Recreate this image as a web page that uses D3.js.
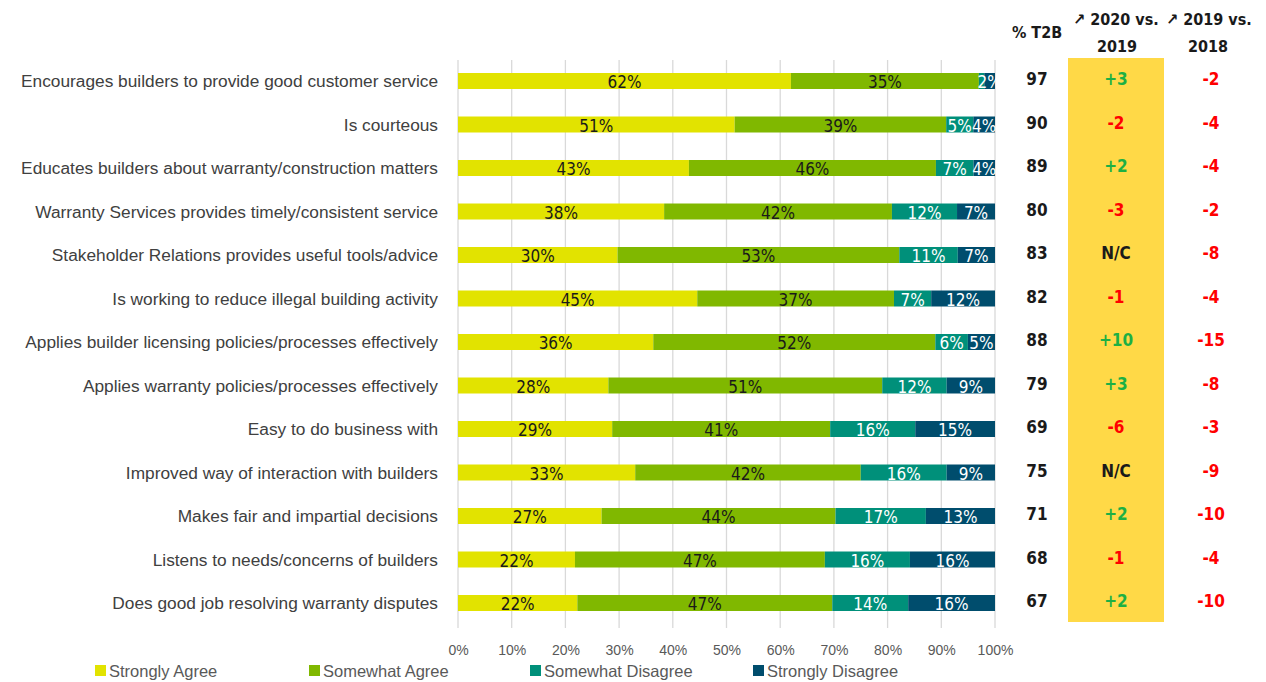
<!DOCTYPE html>
<html>
<head>
<meta charset="utf-8">
<script src="https://cdn.jsdelivr.net/npm/d3@7"></script>
<style>
  html, body { margin: 0; padding: 0; background: #fff; }
  svg { display: block; }
</style>
</head>
<body>
<svg id="chart" width="1266" height="682"></svg>
<script>
// Survey statements (top to bottom)
const categories = [
  "Encourages builders to provide good customer service",
  "Is courteous",
  "Educates builders about warranty/construction matters",
  "Warranty Services provides timely/consistent service",
  "Stakeholder Relations provides useful tools/advice",
  "Is working to reduce illegal building activity",
  "Applies builder licensing policies/processes effectively",
  "Applies warranty policies/processes effectively",
  "Easy to do business with",
  "Improved way of interaction with builders",
  "Makes fair and impartial decisions",
  "Listens to needs/concerns of builders",
  "Does good job resolving warranty disputes"
];

// Response shares (%)
const stronglyAgree     = [62, 51, 43, 38, 30, 45, 36, 28, 29, 33, 27, 22, 22];
const somewhatAgree     = [35, 39, 46, 42, 53, 37, 52, 51, 41, 42, 44, 47, 47];
const somewhatDisagree  = [ 1,  5,  7, 12, 11,  7,  6, 12, 16, 16, 17, 16, 14];
const stronglyDisagree  = [ 2,  4,  4,  7,  7, 12,  5,  9, 15,  9, 13, 16, 16];

// Side table
const t2b       = [97, 90, 89, 80, 83, 82, 88, 79, 69, 75, 71, 68, 67];
const chg2020   = ["+3", "-2", "+2", "-3", "N/C", "-1", "+10", "+3", "-6", "N/C", "+2", "-1", "+2"];
const chg2019   = ["-2", "-4", "-4", "-2", "-8", "-4", "-15", "-8", "-3", "-9", "-10", "-4", "-10"];

const seriesNames = ["Strongly Agree", "Somewhat Agree", "Somewhat Disagree", "Strongly Disagree"];
const seriesValues = [stronglyAgree, somewhatAgree, somewhatDisagree, stronglyDisagree];
const xTicks = [0, 0.1, 0.2, 0.3, 0.4, 0.5, 0.6, 0.7, 0.8, 0.9, 1.0];

const colors = ["#E2E300", "#80B800", "#00907A", "#004D6D"];
const labelColors = ["#1a1a1a", "#1a1a1a", "#ffffff", "#ffffff"];

const FONT = "'Liberation Sans', Arial, sans-serif";
const NARROW = "'Liberation Sans Narrow', 'DejaVu Sans Condensed', 'Liberation Sans', Arial, sans-serif";

const svg = d3.select("#chart");

// Build rows for stacking
const rows = categories.map((c, i) => {
  const r = { category: c };
  seriesNames.forEach((s, k) => r[s] = seriesValues[k][i]);
  return r;
});

const stack = d3.stack().keys(seriesNames).offset(d3.stackOffsetExpand);
const stacked = stack(rows);

const x = d3.scaleLinear().domain([0, 1]).range([458, 995]);
const y = d3.scaleBand().domain(categories).range([59.25, 624.75]).padding(0);
const barH = 16;
const cy = c => y(c) + y.bandwidth() / 2;

// Gridlines
svg.append("g")
  .selectAll("line")
  .data(xTicks)
  .join("line")
  .attr("x1", d => x(d)).attr("x2", d => x(d))
  .attr("y1", 60).attr("y2", 628)
  .attr("stroke", "#d9d9d9")
  .attr("stroke-width", 1.3);

// X axis labels
const xAxis = d3.axisBottom(x).tickValues(xTicks).tickFormat(d3.format(".0%")).tickSize(0).tickPadding(0);
const axisG = svg.append("g").attr("transform", "translate(0,645)").call(xAxis);
axisG.select(".domain").remove();
axisG.selectAll("text")
  .attr("font-family", FONT)
  .attr("font-size", 14)
  .attr("fill", "#595959");

// Stacked bars
const layer = svg.append("g")
  .selectAll("g")
  .data(stacked)
  .join("g")
  .attr("fill", (d, i) => colors[i]);

layer.selectAll("rect")
  .data(d => d)
  .join("rect")
  .attr("x", d => x(d[0]))
  .attr("width", d => x(d[1]) - x(d[0]))
  .attr("y", d => cy(d.data.category) - barH / 2)
  .attr("height", barH);

// Segment value labels
stacked.forEach((s, k) => {
  svg.append("g")
    .selectAll("text")
    .data(s.filter(d => d.data[s.key] >= 2))
    .join("text")
    .attr("x", d => (x(d[0]) + x(d[1])) / 2)
    .attr("y", d => cy(d.data.category) + 7)
    .attr("text-anchor", "middle")
    .attr("font-family", NARROW)
    .attr("font-size", 17)
    .attr("fill", labelColors[k])
    .text(d => d.data[s.key] + "%");
});

// Category labels
svg.append("g")
  .selectAll("text")
  .data(categories)
  .join("text")
  .attr("x", 438)
  .attr("y", d => cy(d) + 6)
  .attr("text-anchor", "end")
  .attr("font-family", FONT)
  .attr("font-size", 17.3)
  .attr("fill", "#404040")
  .text(d => d);

// Highlight column for 2020 vs. 2019
svg.append("rect")
  .attr("x", 1068).attr("y", 58)
  .attr("width", 96).attr("height", 564)
  .attr("fill", "#FFD947");

// Table headers
const hdr = svg.append("g")
  .attr("font-family", NARROW)
  .attr("font-weight", "bold")
  .attr("font-size", 16)
  .attr("fill", "#1a1a1a")
  .attr("text-anchor", "middle");
hdr.append("text").attr("x", 1037).attr("y", 38).text("% T2B");
hdr.append("text").attr("x", 1116).attr("y", 25).text("\u2197 2020 vs.");
hdr.append("text").attr("x", 1117).attr("y", 52).text("2019");
hdr.append("text").attr("x", 1209).attr("y", 25).text("\u2197 2019 vs.");
hdr.append("text").attr("x", 1208).attr("y", 52).text("2018");

// Table values
const valG = svg.append("g")
  .attr("font-family", NARROW)
  .attr("font-weight", "bold")
  .attr("font-size", 17)
  .attr("text-anchor", "middle");

const chgColor = v => v.startsWith("+") ? "#1DB044" : (v.startsWith("-") ? "#FF0000" : "#1a1a1a");

valG.selectAll("text.t2b")
  .data(categories)
  .join("text")
  .attr("class", "t2b")
  .attr("x", 1037)
  .attr("y", (d, i) => cy(d) + 4)
  .attr("fill", "#1a1a1a")
  .text((d, i) => t2b[i]);

valG.selectAll("text.c20")
  .data(categories)
  .join("text")
  .attr("class", "c20")
  .attr("x", 1116)
  .attr("y", (d, i) => cy(d) + 4)
  .attr("fill", (d, i) => chgColor(chg2020[i]))
  .text((d, i) => chg2020[i]);

valG.selectAll("text.c19")
  .data(categories)
  .join("text")
  .attr("class", "c19")
  .attr("x", 1211)
  .attr("y", (d, i) => cy(d) + 4)
  .attr("fill", (d, i) => chgColor(chg2019[i]))
  .text((d, i) => chg2019[i]);

// Legend
const legendX = [95, 309, 530, 753];
const leg = svg.append("g")
  .selectAll("g")
  .data(seriesNames)
  .join("g")
  .attr("transform", (d, i) => `translate(${legendX[i]},0)`);
leg.append("rect")
  .attr("x", 0).attr("y", 665)
  .attr("width", 11).attr("height", 11)
  .attr("fill", (d, i) => colors[i]);
leg.append("text")
  .attr("x", 14).attr("y", 677)
  .attr("font-family", FONT)
  .attr("font-size", 16.5)
  .attr("fill", "#595959")
  .text(d => d);
</script>
</body>
</html>
